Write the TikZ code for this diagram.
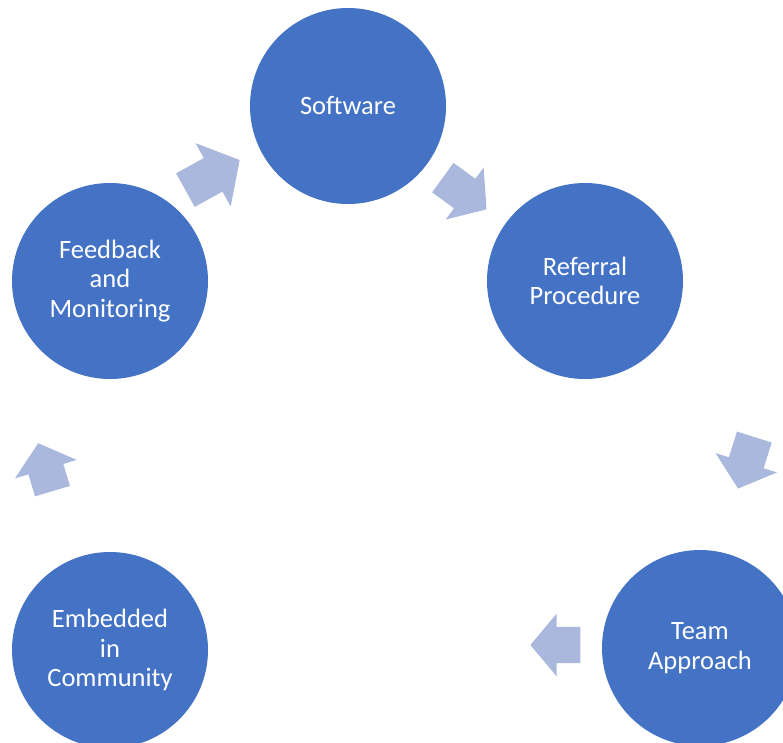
\documentclass[tikz,border=0pt]{standalone}
\usepackage{fontspec}
\setmainfont{Carlito}
\usetikzlibrary{shapes.arrows}
\definecolor{stageblue}{HTML}{4472C4}
\definecolor{flowblue}{HTML}{AAB8DE}
\tikzset{
  stage/.style={circle, fill=stageblue, draw=none, minimum size=196pt, inner sep=0pt,
    text=white, align=center, font=\fontsize{26.5}{29.5}\selectfont},
  flow/.style={single arrow, fill=flowblue, draw=none, inner xsep=0pt, inner ysep=18pt,
    text height=0pt, text depth=0pt, single arrow head extend=14pt,
    single arrow tip angle=100, minimum width=0pt, minimum height=54pt}
}
\begin{document}
\begin{tikzpicture}[x=1pt, y=-1pt]
  \useasboundingbox (0,0) rectangle (783,742);
  \clip (0,0) rectangle (783,742);
  \fill[white] (0,0) rectangle (783,742);

  % the five stages of the cycle
  \node[stage] (soft) at (348,106) {Software};
  \node[stage] (refer) at (585,281) {Referral\\Procedure};
  \node[stage] (team) at (700,648) {Team\\Approach};
  \node[stage] (embed) at (110,650) {Embedded\\in\\Community};
  \node[stage] (feed) at (110,281) {Feedback\\and\\Monitoring};

  % block arrows between the stages
  \node[flow, rotate=29, minimum height=62pt, inner ysep=19pt, single arrow head extend=17pt] (f1) at (205.5,179) {};
  \node[flow, rotate=-36] (f2) at (458.5,189) {};
  \node[flow, rotate=-107.5] (f3) at (748.5,455.5) {};
  \node[flow, rotate=180, minimum height=50pt, single arrow head extend=13pt] (f4) at (563,645) {};
  \node[flow, rotate=106.6, minimum height=50pt] (f5) at (47.5,474.5) {};
\end{tikzpicture}
\end{document}
